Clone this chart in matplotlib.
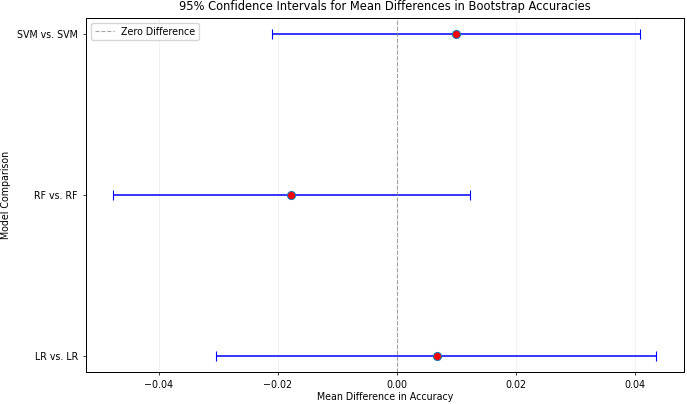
import matplotlib
matplotlib.use("Agg")
import matplotlib.pyplot as plt
import numpy as np

comparisons = ["LR vs. LR", "RF vs. RF", "SVM vs. SVM"]
mean_diffs = [0.0067, -0.0178, 0.0099]
ci_lower = [-0.0304, -0.0477, -0.0210]
ci_upper = [0.0436, 0.0123, 0.0408]

s = 0.687
fig, ax = plt.subplots(figsize=(6.87, 4.04), dpi=100)
y = np.arange(len(comparisons))
means = np.array(mean_diffs)
xerr = [means - np.array(ci_lower), np.array(ci_upper) - means]
ax.errorbar(means, y, xerr=xerr, fmt='o', color='blue', ecolor='blue',
            capsize=5 * s * 1.1, markersize=8 * s * 1.05, markerfacecolor='red',
            markeredgecolor='#1f77b4', markeredgewidth=0.8,
            elinewidth=1.1, capthick=1.1)
ax.axvline(0, color='gray', linestyle='--', linewidth=0.8, alpha=0.7, label='Zero Difference')
ax.set_yticks(y)
ax.set_yticklabels(comparisons, fontsize=10 * s)
ax.tick_params(axis='x', labelsize=10 * s)
ax.tick_params(width=0.8 * s, length=3.5 * s)
ax.set_xlabel('Mean Difference in Accuracy', fontsize=10 * s, labelpad=1.5)
ax.set_ylabel('Model Comparison', fontsize=10 * s)
ax.set_title('95% Confidence Intervals for Mean Differences in Bootstrap Accuracies', fontsize=12 * s * 1.01)
ax.grid(axis='x', linestyle='-', alpha=0.25, linewidth=0.5)
ax.legend(loc='upper left', fontsize=10 * s)
for sp in ax.spines.values():
    sp.set_linewidth(0.8 * s * 1.3)
fig.subplots_adjust(left=86 / 687, right=683.5 / 687, top=1 - 18 / 404, bottom=1 - 372 / 404)
fig.savefig('out.png', dpi=100)
